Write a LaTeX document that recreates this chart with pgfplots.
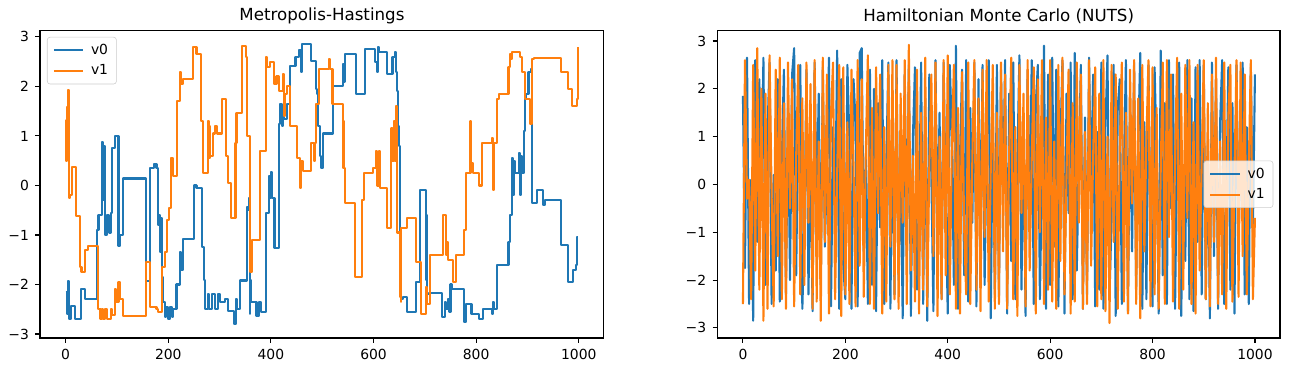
\documentclass[border=0pt]{standalone}
\usepackage{pgfplots}
\pgfplotsset{compat=1.18}
\usepackage{fontspec}
\setmainfont{DejaVu Sans}
\definecolor{c0}{RGB}{31,119,180}
\definecolor{c1}{RGB}{255,127,14}
\definecolor{lgd}{RGB}{204,204,204}
\pgfplotsset{
  mpl/.style={
    scale only axis,
    anchor=south west,
    width=406pt, height=221.4pt,
    xmin=-49.95, xmax=1048.95,
    tick pos=left,
    tick align=outside,
    major tick length=3.5pt,
    every tick/.style={black, line width=0.8pt},
    axis line style={line width=0.8pt},
    xtick={0,200,400,600,800,1000},
    xticklabels={0,200,400,600,800,1000},
    ytick={-3,-2,-1,0,1,2,3},
    yticklabels={−3,−2,−1,0,1,2,3},
    ticklabel style={font=\fontsize{10}{12}\selectfont},
    xticklabel style={yshift=-1pt},
    yticklabel style={xshift=-1pt},
    title style={font=\fontsize{12}{14}\selectfont, yshift=-5pt},
    legend cell align=left,
    legend image code/.code={\draw[#1] (0pt,0pt) -- (21pt,0pt);},
    legend style={draw=lgd, fill=white, fill opacity=0.8, text opacity=1,
      rounded corners=2pt, font=\fontsize{10}{12}\selectfont,
      inner xsep=4pt, inner ysep=3pt, row sep=2pt,
      /tikz/every odd column/.append style={column sep=3pt}},
    every axis plot/.append style={line width=1.5pt, line join=round},
  }
}
\begin{document}
\begin{tikzpicture}
\path[use as bounding box] (0,0) rectangle (928.8pt,267.84pt);
\begin{axis}[mpl, at={(28.8pt,24.5pt)},
  ymin=-3.08, ymax=3.13,
  title={Metropolis-Hastings},
  legend style={at={(0.0124,0.979)}, anchor=north west}]
\addplot[c0, const plot mark left] coordinates {
(0,-2.16) (2,-2.6) (4,-2.15) (5,-1.93) (7,-2.7) (11,-2.43) (19,-2.7) (30,-2.1) (37,-2.3)
(62,-0.9) (64,-0.6) (70,0.87) (72,-0.3) (74,0.8) (77,-1.0) (80,-0.6) (84,-0.95) (88,-0.55)
(91,0.75) (96,1.0) (103,-1.22) (106,-1.0) (111,0.14) (157,-1.93) (165,0.35) (173,0.43)
(177,0.35) (180,-0.8) (182,-0.6) (184,-1.35) (186,-0.65) (188,-1.85) (190,-2.35) (193,-2.65)
(196,-2.45) (199,-2.7) (203,-2.45) (207,-2.65) (210,-2.5) (216,-2.0) (222,-1.35) (225,-1.7)
(228,-1.08) (250,0.0) (255,-0.06) (265,-1.25) (269,-1.9) (271,-2.5) (277,-2.2) (279,-2.5)
(286,-2.2) (291,-2.5) (297,-2.2) (300,-2.35) (310,-2.3) (317,-2.53) (329,-2.8) (332,-2.3)
(334,-2.5) (340,-1.92) (353,-0.43) (355,-0.5) (358,-0.25) (359,-2.6) (360,-1.9) (362,-2.35)
(372,-2.63) (376,-2.35) (380,-2.55) (390,-0.55) (396,0.2) (398,-0.25) (400,0.28) (402,-0.25)
(407,-1.27) (416,1.25) (418,1.65) (421,1.2) (423,1.55) (426,1.35) (431,1.65) (437,2.42)
(448,2.6) (454,2.73) (459,2.3) (461,2.85) (478,2.52) (488,1.95) (490,1.85) (492,1.2)
(495,0.6) (498,0.35) (501,1.05) (521,2.0) (540,2.45) (542,2.1) (545,2.65) (565,1.85)
(583,2.75) (603,2.5) (606,2.3) (609,2.8) (611,2.7) (626,2.25) (637,2.6) (641,2.7) (643,2.3)
(645,1.9) (648,1.2) (650,0.8) (652,-2.1) (654,-2.3) (657,-2.25) (666,-2.55) (682,-1.95)
(691,-0.1) (702,-1.9) (703,-0.6) (705,-2.2) (708,-2.17) (734,-2.65) (739,-2.35) (742,-2.5)
(745,-2.3) (748,-2.55) (750,-2.0) (753,-2.1) (777,-2.75) (780,-2.4) (791,-2.6) (805,-2.7)
(813,-2.5) (830,-2.6) (832,-2.35) (834,-2.5) (841,-1.6) (863,-1.15) (866,-0.6) (869,0.55)
(871,-0.2) (873,0.5) (875,0.25) (883,0.65) (885,-0.2) (887,0.6) (889,0.25) (893,1.1)
(895,1.75) (898,1.85) (902,2.3) (906,2.35) (908,-0.35) (918,-0.1) (930,-0.4) (934,-0.3)
(966,-1.2) (979,-1.95) (988,-1.7) (995,-1.6) (997,-1.05) (999,-1.05)
};
\addlegendentry{v0}
\addplot[c1, const plot mark left] coordinates {
(0,1.33) (1,0.5) (2,1.58) (4,1.2) (5,1.93) (7,-0.25) (9,-0.2) (12,0.37) (20,-0.62) (28,-1.65)
(31,-1.75) (38,-1.3) (44,-1.22) (63,-2.5) (68,-2.7) (70,-2.5) (72,-2.7) (77,-2.5) (80,-2.7)
(88,-2.5) (91,-2.62) (97,-2.1) (99,-2.35) (103,-1.95) (106,-2.3) (111,-2.63) (157,-1.55)
(165,-2.45) (177,-2.5) (180,-2.55) (188,-1.65) (194,-1.35) (197,-0.7) (201,-0.45) (206,0.55)
(210,0.2) (217,1.7) (222,2.3) (224,2.05) (229,2.15) (248,2.8) (255,2.65) (264,1.3) (268,0.25)
(278,1.3) (280,0.55) (281,1.2) (282,0.6) (288,1.05) (291,1.2) (295,1.05) (304,1.75) (313,0.6)
(317,0.05) (322,-0.65) (331,0.85) (333,1.47) (343,2.82) (351,2.6) (353,1.0) (359,-1.75)
(363,-1.1) (379,0.7) (390,2.6) (392,2.4) (399,2.5) (406,2.05) (411,2.2) (415,1.9) (423,2.25)
(425,1.4) (428,1.85) (431,2.0) (437,1.2) (451,0.55) (457,-0.05) (459,0.5) (462,0.3) (478,0.85)
(484,0.5) (486,0.85) (488,1.65) (494,2.35) (514,2.55) (516,2.35) (520,1.65) (540,1.3)
(541,0.35) (542,1.3) (543,0.35) (545,-0.35) (564,-1.85) (578,-0.3) (581,0.25) (599,0.35)
(605,0.7) (607,0.0) (611,0.7) (612,-0.05) (626,-0.85) (634,1.15) (637,0.5) (640,1.3)
(641,0.5) (644,1.6) (646,-0.95) (651,-2.25) (653,-2.35) (654,-0.85) (665,-0.65) (682,-1.55)
(693,-2.6) (702,-2.05) (704,-2.4) (710,-1.4) (735,-0.6) (741,-1.4) (744,-1.15) (746,-1.5)
(754,-1.95) (760,-1.4) (777,-0.9) (780,0.25) (789,1.3) (790,0.45) (794,0.25) (806,0.0)
(811,0.85) (830,0.95) (832,-0.1) (834,0.85) (840,1.75) (845,1.85) (863,2.4) (866,2.65)
(868,2.55) (869,2.7) (886,2.6) (889,2.3) (895,1.75) (905,1.25) (908,2.55) (912,2.57)
(966,2.3) (979,1.95) (986,1.6) (997,1.75) (999,2.8)
};
\addlegendentry{v1}
\end{axis}
\begin{axis}[mpl, at={(516.5pt,24.5pt)},
  width=405.1pt,
  ymin=-3.21, ymax=3.22,
  title={Hamiltonian Monte Carlo (NUTS)},
  legend style={at={(0.988,0.5)}, anchor=east}]
\addplot[c0] table[header=false, row sep=\\, x expr=\coordindex*4, y index=0] {
1.85\\ -1.75\\ 2.65\\ -2.5\\ 0.1\\ -2.85\\ 2.6\\ -1.2\\ 2.2\\ -0.3\\ 2.65\\ -2.1\\ 1.1\\ 2.55\\ -2.5\\ 0.2\\ -1.8\\ 2.2\\ -2.45\\ 0.5\\ 2.4\\ -2.3\\ 1.6\\ -2.0\\ 2.3\\
2.85\\ -1.9\\ 1.55\\ 2.5\\ -2.6\\ -1.0\\ 2.4\\ -2.3\\ 0.8\\ -2.65\\ 2.55\\ -0.5\\ 1.9\\ -2.1\\ 2.45\\ -1.3\\ 0.3\\ 2.65\\ -2.55\\ 1.2\\ -0.7\\ 2.8\\ -2.6\\ 2.2\\ -1.7\\
-2.4\\ 2.5\\ 0.9\\ -2.6\\ 2.2\\ 1.3\\ -2.55\\ 2.75\\ 2.85\\ -1.4\\ 0.6\\ -2.5\\ 2.4\\ -2.1\\ 2.0\\ -2.65\\ 1.7\\ -0.9\\ 2.6\\ -2.5\\ 0.4\\ 2.55\\ -2.6\\ 1.4\\ -2.3\\
2.6\\ -2.0\\ 0.7\\ -2.8\\ 2.3\\ -1.5\\ 2.5\\ -2.75\\ 1.0\\ 2.45\\ -2.2\\ -0.6\\ 2.55\\ -2.5\\ 1.8\\ -2.85\\ 2.3\\ 0.2\\ -2.65\\ 2.6\\ -1.1\\ 1.5\\ -2.4\\ 2.55\\ -0.3\\
-2.7\\ 2.5\\ 1.1\\ -2.1\\ 2.9\\ -2.6\\ 0.6\\ 2.4\\ -1.9\\ 2.6\\ -2.45\\ 1.6\\ -0.8\\ 2.55\\ -2.55\\ 2.2\\ -1.3\\ 2.5\\ -2.1\\ 0.9\\ 2.6\\ -2.8\\ 1.5\\ -2.3\\ 2.5\\
-2.35\\ 2.4\\ -0.4\\ 2.6\\ -2.7\\ 1.9\\ -1.6\\ 2.55\\ -2.4\\ 0.5\\ 2.7\\ -2.2\\ 1.3\\ -2.75\\ 2.4\\ -0.9\\ 2.6\\ -2.5\\ 1.7\\ 2.5\\ -2.4\\ 0.2\\ 2.9\\ -2.6\\ 2.3\\
-2.1\\ 2.65\\ -1.3\\ 2.4\\ -2.55\\ 0.8\\ 2.6\\ -2.7\\ 1.9\\ -0.6\\ 2.55\\ -2.4\\ 2.75\\ -1.8\\ 0.4\\ 2.5\\ -2.6\\ 1.4\\ -2.3\\ 2.65\\ -0.2\\ 2.3\\ -2.55\\ 1.1\\ -2.2\\
2.55\\ -2.6\\ 1.2\\ 2.7\\ -2.3\\ -0.7\\ 2.5\\ -2.75\\ 1.6\\ 2.2\\ -2.5\\ 0.3\\ 2.6\\ -2.65\\ 1.8\\ -1.4\\ 2.55\\ -2.2\\ 0.9\\ 2.75\\ -2.6\\ 1.3\\ -2.4\\ 2.5\\ -1.0\\
-2.55\\ 2.45\\ 0.6\\ -2.7\\ 2.8\\ -1.9\\ 1.7\\ -2.5\\ 2.6\\ -0.5\\ 2.3\\ -2.6\\ 1.0\\ 2.55\\ -2.75\\ 0.3\\ -1.6\\ 2.6\\ -2.4\\ 1.8\\ -2.65\\ 2.45\\ -1.2\\ 2.6\\ -2.3\\
2.5\\ -2.4\\ 0.9\\ -2.8\\ 2.55\\ -1.5\\ 2.2\\ -2.6\\ 1.3\\ 2.6\\ -2.5\\ -0.4\\ 2.45\\ -2.2\\ 1.7\\ -2.7\\ 2.5\\ -1.0\\ 0.5\\ 2.55\\ -2.3\\ 1.2\\ -2.5\\ 2.45\\ -1.0\\ 2.3\\
};
\addlegendentry{v0}
\addplot[c1] table[header=false, row sep=\\, x expr=\coordindex*4, y index=0] {
-2.5\\ 2.6\\ -0.3\\ 0.1\\ -2.4\\ 2.5\\ -1.8\\ 2.85\\ -2.2\\ 2.0\\ -2.85\\ 1.9\\ -2.6\\ 2.7\\ -0.2\\ -2.55\\ 2.4\\ -1.5\\ 2.65\\ -2.4\\ 1.7\\ -2.6\\ 2.55\\ -0.5\\ 2.2\\
-2.55\\ 0.6\\ 2.5\\ -2.3\\ 1.8\\ -2.1\\ 2.55\\ -0.8\\ 2.1\\ -2.6\\ 2.6\\ -2.45\\ 0.9\\ -2.85\\ 2.65\\ -1.2\\ 2.3\\ -2.7\\ 1.5\\ 2.55\\ -2.4\\ 0.2\\ 2.5\\ -2.75\\ 2.45\\
-2.3\\ 1.3\\ -2.5\\ 2.4\\ 0.4\\ -2.55\\ 2.6\\ -1.7\\ 2.2\\ -2.35\\ 0.7\\ 2.7\\ -2.5\\ 1.6\\ -2.6\\ 2.45\\ -0.6\\ 2.3\\ -2.7\\ 1.2\\ -2.45\\ 2.5\\ -1.3\\ 2.6\\ -2.4\\
2.5\\ -2.6\\ 1.9\\ -0.8\\ 2.6\\ -2.5\\ 2.92\\ -1.8\\ 0.6\\ -2.45\\ 2.4\\ -2.7\\ 1.5\\ -2.2\\ 2.65\\ -2.55\\ 0.4\\ 2.3\\ -1.5\\ 2.55\\ -2.75\\ 1.0\\ -2.4\\ 2.6\\ -1.9\\
2.7\\ -2.3\\ 0.8\\ 2.5\\ -2.6\\ 1.6\\ -2.7\\ 2.35\\ -0.9\\ -2.3\\ 2.55\\ -2.5\\ 0.5\\ 2.6\\ -2.2\\ 1.8\\ -2.65\\ 2.4\\ -1.1\\ 2.6\\ -2.45\\ 0.3\\ 2.5\\ -2.6\\ 1.5\\
-2.5\\ 2.55\\ -1.4\\ 2.3\\ -2.6\\ 0.7\\ 2.65\\ -2.4\\ 1.2\\ -2.75\\ 2.5\\ -0.6\\ 1.9\\ -2.55\\ 2.6\\ -1.8\\ 0.5\\ 2.45\\ -2.7\\ 2.2\\ -1.0\\ 2.6\\ -2.5\\ 1.4\\ -2.2\\
2.6\\ -2.45\\ 0.9\\ -2.6\\ 2.5\\ -1.6\\ 2.65\\ -2.3\\ 0.2\\ 2.4\\ -2.7\\ 1.7\\ -2.45\\ 2.55\\ -0.8\\ 2.3\\ -2.6\\ 1.1\\ -2.5\\ 2.6\\ -1.7\\ 0.6\\ 2.45\\ -2.55\\ 1.9\\
-2.4\\ 2.6\\ -2.65\\ 1.0\\ -2.9\\ 2.5\\ -1.2\\ 2.3\\ -2.6\\ 0.8\\ 2.55\\ -2.45\\ 1.5\\ -2.7\\ 2.4\\ -0.4\\ 2.6\\ -2.5\\ 1.8\\ -2.8\\ 2.5\\ -1.4\\ 0.9\\ 2.6\\ -2.55\\
2.45\\ -2.3\\ 1.6\\ -2.6\\ 0.3\\ 2.55\\ -2.5\\ 2.6\\ -1.1\\ 2.3\\ -2.45\\ 0.6\\ 2.65\\ -2.6\\ 1.9\\ -2.2\\ 2.5\\ -0.7\\ 2.6\\ -2.5\\ 1.3\\ -2.7\\ 2.5\\ -1.8\\ 0.5\\
2.6\\ -2.4\\ 1.7\\ -2.55\\ 2.3\\ -1.2\\ 2.65\\ -2.5\\ 0.9\\ -2.3\\ 2.55\\ -2.6\\ 1.4\\ 2.5\\ -2.45\\ 0.2\\ 2.6\\ -2.35\\ 2.55\\ -1.5\\ 2.3\\ -2.3\\ 0.4\\ 2.6\\ -2.4\\ -0.7\\
};
\addlegendentry{v1}
\end{axis}
\end{tikzpicture}
\end{document}
